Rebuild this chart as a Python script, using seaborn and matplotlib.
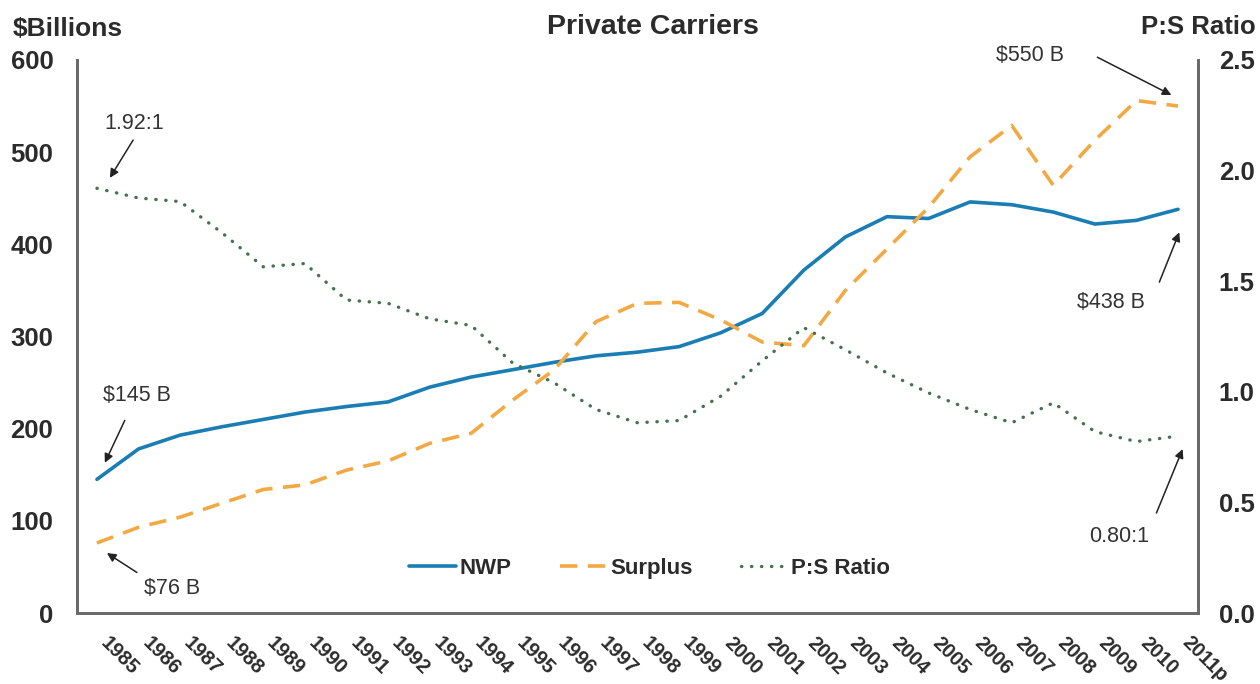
import numpy as np
import pandas as pd
import seaborn as sns
import matplotlib.pyplot as plt

# Values
years = list(range(1985, 2012))
year_labels = [str(y) for y in years[:-1]] + ['2011p']
nwp = [145, 178, 193, 202, 210, 218, 224, 229, 245, 256, 264, 272, 279, 283,
       289, 304, 325, 372, 408, 430, 428, 446, 443, 435, 422, 426, 438]
surplus = [76, 93, 104, 119, 134, 139, 155, 165, 184, 195, 231, 264, 316, 336,
           337, 318, 294, 290, 350, 395, 440, 495, 529, 464, 513, 556, 550]
ps_ratio = [1.92, 1.876, 1.86, 1.72, 1.565, 1.58, 1.415, 1.40, 1.33, 1.30, 1.13,
            1.04, 0.92, 0.86, 0.87, 0.98, 1.14, 1.29, 1.19, 1.085, 0.995, 0.92,
            0.86, 0.95, 0.82, 0.775, 0.80]

left_ticks = [0, 100, 200, 300, 400, 500, 600]
right_ticks = [0.0, 0.5, 1.0, 1.5, 2.0, 2.5]

df = pd.DataFrame({'year': years, 'NWP': nwp, 'Surplus': surplus, 'P:S Ratio': ps_ratio})

sns.set_theme(style='white')
plt.rcParams['font.family'] = ['Liberation Sans', 'DejaVu Sans']

BLUE = '#1a7db3'
ORANGE = '#f2a944'
GREEN = '#44724c'
TXT = '#2b2b2b'
SPINE = '#6a6a6a'

fig = plt.figure(figsize=(12.6, 6.84), dpi=100)
ax = fig.add_axes([0.0611, 0.1038, 0.8897, 0.8085])
ax2 = ax.twinx()

sns.lineplot(data=df, x='year', y='NWP', ax=ax, color=BLUE, lw=2.6, label='NWP', legend=False)
sns.lineplot(data=df, x='year', y='Surplus', ax=ax, color=ORANGE, lw=2.6, label='Surplus', legend=False)
ax.lines[-1].set_dashes([4.8, 2.9])
sns.lineplot(data=df, x='year', y='P:S Ratio', ax=ax2, color=GREEN, lw=2.4, label='P:S Ratio', legend=False)
ax2.lines[-1].set_dashes([0.1, 2.9])
ax2.lines[-1].set_dash_capstyle('round')

ax.set_xlim(1984.52, 2011.48)
ax.set_ylim(0, 600)
ax2.set_ylim(0, 2.5)
ax.set_xticks(years)
ax.set_xticklabels(year_labels, rotation=-45, ha='left', va='bottom', rotation_mode='anchor',
                   fontsize=14.5, fontweight='bold', color=TXT)
ax.set_yticks(left_ticks)
ax.set_yticklabels([str(t) for t in left_ticks], fontsize=18.5, fontweight='bold', color=TXT)
ax2.set_yticks(right_ticks)
ax2.set_yticklabels([f'{t:.1f}' for t in right_ticks], fontsize=18.5, fontweight='bold', color=TXT)
ax.tick_params(axis='x', length=0, pad=24)
ax.tick_params(axis='y', length=0, pad=17)
ax2.tick_params(axis='y', length=0, pad=15)
ax.set_xlabel('')
ax.set_ylabel('')
ax2.set_ylabel('')

for a in (ax, ax2):
    a.spines['top'].set_visible(False)
    for s in ('left', 'bottom', 'right'):
        a.spines[s].set_color(SPINE)
        a.spines[s].set_linewidth(2)
    a.grid(False)

# Titles
fig.text(0.518, 0.961, 'Private Carriers', ha='center', va='center', fontsize=20.5,
         fontweight='bold', color=TXT)
fig.text(0.010, 0.958, '$Billions', ha='left', va='center', fontsize=19,
         fontweight='bold', color=TXT)
fig.text(0.997, 0.960, 'P:S Ratio', ha='right', va='center', fontsize=18.5,
         fontweight='bold', color=TXT)

# Legend
handles = ax.lines[:2] + ax2.lines[:1]
leg = ax2.legend(handles, ['NWP', 'Surplus', 'P:S Ratio'], loc='center', bbox_to_anchor=(0.511, 0.081),
                 ncol=3, frameon=False, handlelength=2.1, handletextpad=0.15, columnspacing=2.2,
                 prop={'weight': 'bold', 'size': 16})
for t in leg.get_texts():
    t.set_color(TXT)

# Annotations
arrow = dict(arrowstyle='-|>', color='#222222', lw=1.1, mutation_scale=13, shrinkA=0, shrinkB=0)
ann_kw = dict(ha='center', va='center', fontsize=15.5, color='#333333')

ax.text(1985.96, 236, '$145 B', **ann_kw)
ax.annotate('', xy=(1985.19, 163), xytext=(1985.67, 209), arrowprops=arrow)
ax.text(1986.8, 27, '$76 B', **ann_kw)
ax.annotate('', xy=(1985.24, 65), xytext=(1985.96, 44), arrowprops=arrow)
ax2.text(1985.89, 2.215, '1.92:1', **ann_kw)
ax2.annotate('', xy=(1985.31, 1.967), xytext=(1985.87, 2.138), arrowprops=arrow)
ax.text(2007.43, 605, '$550 B', clip_on=False, **ann_kw)
ax.annotate('', xy=(2010.84, 562), xytext=(2009.06, 603), arrowprops=arrow, annotation_clip=False)
ax.text(2009.38, 337, '$438 B', **ann_kw)
ax.annotate('', xy=(2011.03, 413), xytext=(2010.55, 359), arrowprops=arrow)
ax2.text(2009.59, 0.344, '0.80:1', **ann_kw)
ax2.annotate('', xy=(2011.11, 0.741), xytext=(2010.48, 0.452), arrowprops=arrow)

fig.savefig('out.png', dpi=100, facecolor='white')
